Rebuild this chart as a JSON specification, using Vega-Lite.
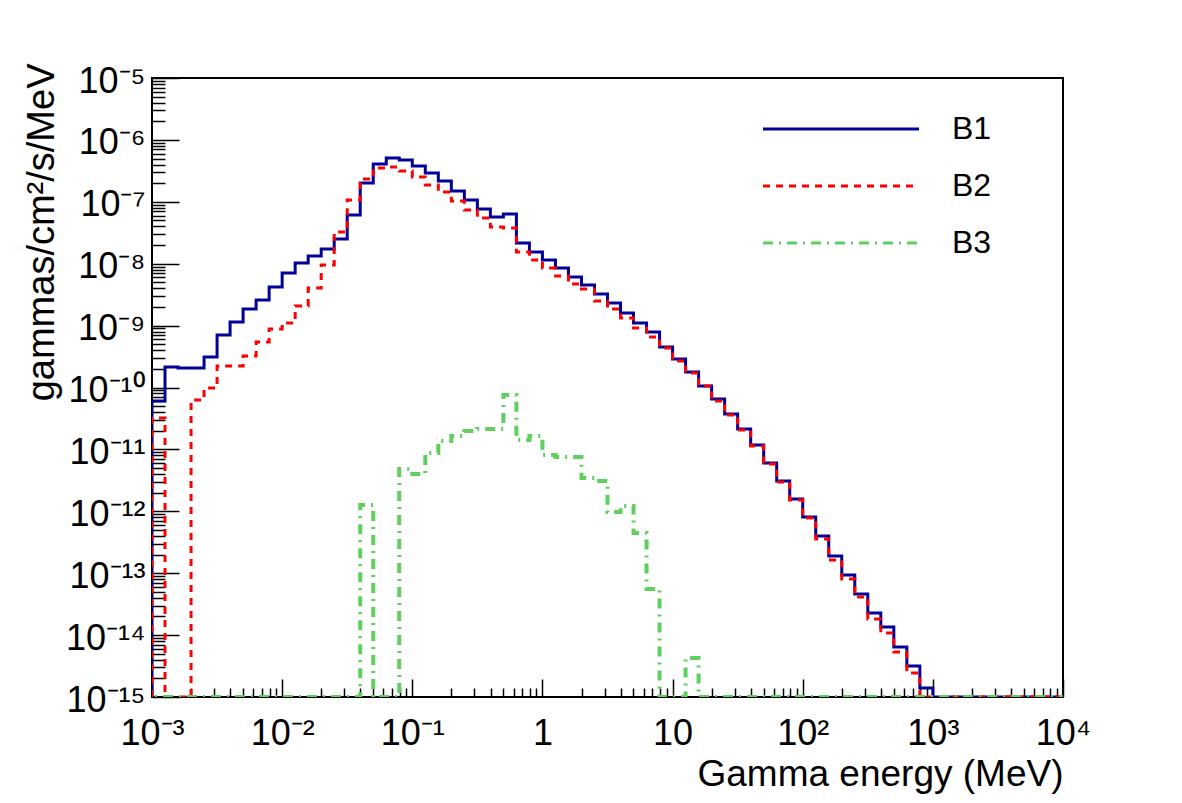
{
  "$schema": "https://vega.github.io/schema/vega-lite/v6.json",
  "width": 911,
  "height": 619,
  "autosize": {"type": "none"},
  "padding": {"left": 152, "top": 78, "right": 119, "bottom": 106},
  "background": "white",
  "config": {
    "font": "Liberation Sans",
    "view": {"stroke": "black", "strokeWidth": 2},
    "axis": {"grid": false, "domain": false, "tickColor": "black", "tickWidth": 1.5, "labelColor": "black", "titleColor": "black", "labelFont": "Liberation Sans", "titleFont": "Liberation Sans", "titleFontWeight": "normal", "labelOverlap": false, "labelFlush": false, "labelBound": false}
  },
  "data": {
    "values": [
      {"lo": 0.00079433, "hi": 0.001, "B1": 0, "B2": 0, "B3": 0},
      {"lo": 0.001, "hi": 0.0012589, "B1": 6.05e-11, "B2": 3.21e-11, "B3": 0},
      {"lo": 0.0012589, "hi": 0.0015849, "B1": 2.14e-10, "B2": 0, "B3": 0},
      {"lo": 0.0015849, "hi": 0.0019953, "B1": 2.07e-10, "B2": 0, "B3": 0},
      {"lo": 0.0019953, "hi": 0.0025119, "B1": 2.07e-10, "B2": 6.28e-11, "B3": 0},
      {"lo": 0.0025119, "hi": 0.0031623, "B1": 3.11e-10, "B2": 9.82e-11, "B3": 0},
      {"lo": 0.0031623, "hi": 0.0039811, "B1": 7.05e-10, "B2": 2.22e-10, "B3": 0},
      {"lo": 0.0039811, "hi": 0.0050119, "B1": 1.14e-9, "B2": 2.22e-10, "B3": 0},
      {"lo": 0.0050119, "hi": 0.0063096, "B1": 1.85e-9, "B2": 3.23e-10, "B3": 0},
      {"lo": 0.0063096, "hi": 0.0079433, "B1": 2.59e-9, "B2": 5.43e-10, "B3": 0},
      {"lo": 0.0079433, "hi": 0.01, "B1": 4.21e-9, "B2": 8.81e-10, "B3": 0},
      {"lo": 0.01, "hi": 0.012589, "B1": 7.08e-9, "B2": 1.10e-9, "B3": 0},
      {"lo": 0.012589, "hi": 0.015849, "B1": 1.03e-8, "B2": 2.07e-9, "B3": 0},
      {"lo": 0.015849, "hi": 0.019953, "B1": 1.33e-8, "B2": 4.05e-9, "B3": 0},
      {"lo": 0.019953, "hi": 0.025119, "B1": 1.73e-8, "B2": 9.53e-9, "B3": 0},
      {"lo": 0.025119, "hi": 0.031623, "B1": 2.51e-8, "B2": 3.25e-8, "B3": 0},
      {"lo": 0.031623, "hi": 0.039811, "B1": 6.12e-8, "B2": 1.07e-7, "B3": 0},
      {"lo": 0.039811, "hi": 0.050119, "B1": 2.01e-7, "B2": 2.34e-7, "B3": 1.26e-12},
      {"lo": 0.050119, "hi": 0.063096, "B1": 4.08e-7, "B2": 3.52e-7, "B3": 0},
      {"lo": 0.063096, "hi": 0.079433, "B1": 5.10e-7, "B2": 3.65e-7, "B3": 0},
      {"lo": 0.079433, "hi": 0.1, "B1": 4.73e-7, "B2": 3.15e-7, "B3": 4.82e-12},
      {"lo": 0.1, "hi": 0.12589, "B1": 3.79e-7, "B2": 2.52e-7, "B3": 4.01e-12},
      {"lo": 0.12589, "hi": 0.15849, "B1": 2.92e-7, "B2": 1.87e-7, "B3": 8.75e-12},
      {"lo": 0.15849, "hi": 0.19953, "B1": 2.17e-7, "B2": 1.44e-7, "B3": 1.37e-11},
      {"lo": 0.19953, "hi": 0.25119, "B1": 1.49e-7, "B2": 1.03e-7, "B3": 1.65e-11},
      {"lo": 0.25119, "hi": 0.31623, "B1": 1.07e-7, "B2": 7.38e-8, "B3": 1.98e-11},
      {"lo": 0.31623, "hi": 0.39811, "B1": 7.65e-8, "B2": 5.47e-8, "B3": 2.14e-11},
      {"lo": 0.39811, "hi": 0.50119, "B1": 5.68e-8, "B2": 3.92e-8, "B3": 2.14e-11},
      {"lo": 0.50119, "hi": 0.63096, "B1": 6.35e-8, "B2": 3.78e-8, "B3": 7.57e-11},
      {"lo": 0.63096, "hi": 0.79433, "B1": 2.16e-8, "B2": 1.55e-8, "B3": 1.42e-11},
      {"lo": 0.79433, "hi": 1, "B1": 1.55e-8, "B2": 1.15e-8, "B3": 1.65e-11},
      {"lo": 1, "hi": 1.2589, "B1": 1.15e-8, "B2": 8.53e-9, "B3": 8.12e-12},
      {"lo": 1.2589, "hi": 1.5849, "B1": 8.53e-9, "B2": 6.33e-9, "B3": 7.54e-12},
      {"lo": 1.5849, "hi": 1.9953, "B1": 6.10e-9, "B2": 4.70e-9, "B3": 7.54e-12},
      {"lo": 1.9953, "hi": 2.5119, "B1": 4.53e-9, "B2": 3.90e-9, "B3": 3.45e-12},
      {"lo": 2.5119, "hi": 3.1623, "B1": 3.24e-9, "B2": 2.50e-9, "B3": 3.09e-12},
      {"lo": 3.1623, "hi": 3.9811, "B1": 2.32e-9, "B2": 1.85e-9, "B3": 9.75e-13},
      {"lo": 3.9811, "hi": 5.0119, "B1": 1.60e-9, "B2": 1.33e-9, "B3": 1.22e-12},
      {"lo": 5.0119, "hi": 6.3096, "B1": 1.10e-9, "B2": 9.14e-10, "B3": 4.46e-13},
      {"lo": 6.3096, "hi": 7.9433, "B1": 7.88e-10, "B2": 6.55e-10, "B3": 5.56e-14},
      {"lo": 7.9433, "hi": 10, "B1": 4.51e-10, "B2": 4.35e-10, "B3": 0},
      {"lo": 10, "hi": 12.589, "B1": 2.88e-10, "B2": 2.68e-10, "B3": 0},
      {"lo": 12.589, "hi": 15.849, "B1": 1.78e-10, "B2": 1.71e-10, "B3": 4.27e-15},
      {"lo": 15.849, "hi": 19.953, "B1": 1.06e-10, "B2": 1.06e-10, "B3": 0},
      {"lo": 19.953, "hi": 25.119, "B1": 6.52e-11, "B2": 6.05e-11, "B3": 0},
      {"lo": 25.119, "hi": 31.623, "B1": 3.73e-11, "B2": 3.60e-11, "B3": 0},
      {"lo": 31.623, "hi": 39.811, "B1": 2.14e-11, "B2": 2.06e-11, "B3": 0},
      {"lo": 39.811, "hi": 50.119, "B1": 1.18e-11, "B2": 1.14e-11, "B3": 0},
      {"lo": 50.119, "hi": 63.096, "B1": 6.03e-12, "B2": 5.81e-12, "B3": 0},
      {"lo": 63.096, "hi": 79.433, "B1": 3.09e-12, "B2": 2.97e-12, "B3": 0},
      {"lo": 79.433, "hi": 100, "B1": 1.58e-12, "B2": 1.52e-12, "B3": 0},
      {"lo": 100, "hi": 125.89, "B1": 8.09e-13, "B2": 7.80e-13, "B3": 0},
      {"lo": 125.89, "hi": 158.49, "B1": 3.99e-13, "B2": 3.57e-13, "B3": 0},
      {"lo": 158.49, "hi": 199.53, "B1": 1.90e-13, "B2": 1.63e-13, "B3": 0},
      {"lo": 199.53, "hi": 251.19, "B1": 9.35e-14, "B2": 8.05e-14, "B3": 0},
      {"lo": 251.19, "hi": 316.23, "B1": 4.61e-14, "B2": 4.13e-14, "B3": 0},
      {"lo": 316.23, "hi": 398.11, "B1": 2.28e-14, "B2": 1.82e-14, "B3": 0},
      {"lo": 398.11, "hi": 501.19, "B1": 1.35e-14, "B2": 1.08e-14, "B3": 0},
      {"lo": 501.19, "hi": 630.96, "B1": 6.43e-15, "B2": 5.33e-15, "B3": 0},
      {"lo": 630.96, "hi": 794.33, "B1": 3.17e-15, "B2": 2.44e-15, "B3": 0},
      {"lo": 794.33, "hi": 1000, "B1": 1.40e-15, "B2": 0, "B3": 0},
      {"lo": 1000, "hi": 1258.9, "B1": 0, "B2": 0, "B3": 0},
      {"lo": 1258.9, "hi": 1584.9, "B1": 0, "B2": 0, "B3": 0},
      {"lo": 1584.9, "hi": 1995.3, "B1": 0, "B2": 0, "B3": 0},
      {"lo": 1995.3, "hi": 2511.9, "B1": 0, "B2": 0, "B3": 0},
      {"lo": 2511.9, "hi": 3162.3, "B1": 0, "B2": 0, "B3": 0},
      {"lo": 3162.3, "hi": 3981.1, "B1": 0, "B2": 0, "B3": 0},
      {"lo": 3981.1, "hi": 5011.9, "B1": 0, "B2": 0, "B3": 0},
      {"lo": 5011.9, "hi": 6309.6, "B1": 0, "B2": 0, "B3": 0},
      {"lo": 6309.6, "hi": 7943.3, "B1": 0, "B2": 0, "B3": 0},
      {"lo": 7943.3, "hi": 10000, "B1": 0, "B2": 0, "B3": 0}
    ]
  },
  "transform": [
    {"fold": ["B1", "B2", "B3"], "as": ["series", "flux"]},
    {"fold": ["lo", "hi"], "as": ["edge", "energy"]}
  ],
  "encoding": {
    "x": {"field": "energy", "type": "quantitative", "scale": {"type": "log", "domain": [0.001, 10000], "nice": false}},
    "y": {"field": "flux", "type": "quantitative", "scale": {"type": "log", "domain": [1e-15, 1e-5], "nice": false, "clamp": true}},
    "order": [{"field": "energy", "type": "quantitative"}, {"field": "edge", "type": "nominal"}],
    "color": {
      "field": "series", "type": "nominal",
      "scale": {"domain": ["B1", "B2", "B3"], "range": ["#000099", "#ff0000", "#5fd05f"]},
      "legend": {
        "title": null, "orient": "none", "legendX": 673, "legendY": 35,
        "symbolType": "M-78,0H78", "symbolSize": 4, "symbolStrokeWidth": 3,
        "labelFontSize": 32, "labelFont": "Liberation Sans", "labelColor": "black",
        "labelOffset": 95, "rowPadding": 25
      }
    },
    "strokeDash": {
      "field": "series", "type": "nominal",
      "scale": {"domain": ["B1", "B2", "B3"], "range": [[1, 0], [7, 6], [10, 6, 2, 6]]}
    }
  },
  "layer": [
    {
      "transform": [{"filter": "datum.series !== 'B3'"}],
      "mark": {"type": "line", "strokeWidth": 3, "clip": true},
      "encoding": {
        "x": {
          "field": "energy", "type": "quantitative", "title": "Gamma energy (MeV)",
          "axis": {
            "orient": "bottom", "values": [0.001, 0.01, 0.1, 1, 10, 100, 1000, 10000],
            "tickSize": -18, "labelPadding": 37, "labelFontSize": 36,
            "labelExpr": "datum.value == 1 ? '1' : datum.value == 10 ? '10' : '10' + replace(replace(replace(replace(replace(replace(replace(replace(replace(replace(replace('' + round(log(datum.value) / LN10), regexp('-', 'g'), '⁻'), regexp('0', 'g'), '⁰'), regexp('1', 'g'), '¹'), regexp('2', 'g'), '²'), regexp('3', 'g'), '³'), regexp('4', 'g'), '⁴'), regexp('5', 'g'), '⁵'), regexp('6', 'g'), '⁶'), regexp('7', 'g'), '⁷'), regexp('8', 'g'), '⁸'), regexp('9', 'g'), '⁹')",
            "titleFontSize": 37, "titleAnchor": "end", "titlePadding": 5
          }
        },
        "y": {
          "field": "flux", "type": "quantitative", "title": "gammas/cm²/s/MeV",
          "axis": {
            "orient": "left", "values": [1e-15, 1e-14, 1e-13, 1e-12, 1e-11, 1e-10, 1e-9, 1e-8, 1e-7, 1e-6, 1e-5],
            "tickSize": -27, "labelPadding": 34, "labelFontSize": 36, "labelOffset": 3,
            "labelExpr": "'10' + replace(replace(replace(replace(replace(replace(replace(replace(replace(replace(replace('' + round(log(datum.value) / LN10), regexp('-', 'g'), '⁻'), regexp('0', 'g'), '⁰'), regexp('1', 'g'), '¹'), regexp('2', 'g'), '²'), regexp('3', 'g'), '³'), regexp('4', 'g'), '⁴'), regexp('5', 'g'), '⁵'), regexp('6', 'g'), '⁶'), regexp('7', 'g'), '⁷'), regexp('8', 'g'), '⁸'), regexp('9', 'g'), '⁹')",
            "titleFontSize": 38, "titleAnchor": "end", "titlePadding": 4, "titleY": -15
          }
        }
      }
    },
    {
      "transform": [{"filter": "datum.series === 'B3'"}],
      "mark": {"type": "line", "strokeWidth": 4, "clip": true},
      "encoding": {
        "x": {
          "field": "energy", "type": "quantitative", "title": null,
          "axis": {
            "orient": "bottom", "labels": false, "tickSize": -9,
            "values": [0.002, 0.003, 0.004, 0.005, 0.006, 0.007, 0.008, 0.009, 0.02, 0.03, 0.04, 0.05, 0.06, 0.07, 0.08, 0.09, 0.2, 0.3, 0.4, 0.5, 0.6, 0.7, 0.8, 0.9, 2, 3, 4, 5, 6, 7, 8, 9, 20, 30, 40, 50, 60, 70, 80, 90, 200, 300, 400, 500, 600, 700, 800, 900, 2000, 3000, 4000, 5000, 6000, 7000, 8000, 9000]
          }
        },
        "y": {
          "field": "flux", "type": "quantitative", "title": null,
          "axis": {
            "orient": "left", "labels": false, "tickSize": -13,
            "values": [2e-15, 3e-15, 4e-15, 5e-15, 6e-15, 7e-15, 8e-15, 9e-15, 2e-14, 3e-14, 4e-14, 5e-14, 6e-14, 7e-14, 8e-14, 9e-14, 2e-13, 3e-13, 4e-13, 5e-13, 6e-13, 7e-13, 8e-13, 9e-13, 2e-12, 3e-12, 4e-12, 5e-12, 6e-12, 7e-12, 8e-12, 9e-12, 2e-11, 3e-11, 4e-11, 5e-11, 6e-11, 7e-11, 8e-11, 9e-11, 2e-10, 3e-10, 4e-10, 5e-10, 6e-10, 7e-10, 8e-10, 9e-10, 2e-9, 3e-9, 4e-9, 5e-9, 6e-9, 7e-9, 8e-9, 9e-9, 2e-8, 3e-8, 4e-8, 5e-8, 6e-8, 7e-8, 8e-8, 9e-8, 2e-7, 3e-7, 4e-7, 5e-7, 6e-7, 7e-7, 8e-7, 9e-7, 2e-6, 3e-6, 4e-6, 5e-6, 6e-6, 7e-6, 8e-6, 9e-6]
          }
        }
      }
    }
  ],
  "resolve": {"axis": {"x": "independent", "y": "independent"}}
}
